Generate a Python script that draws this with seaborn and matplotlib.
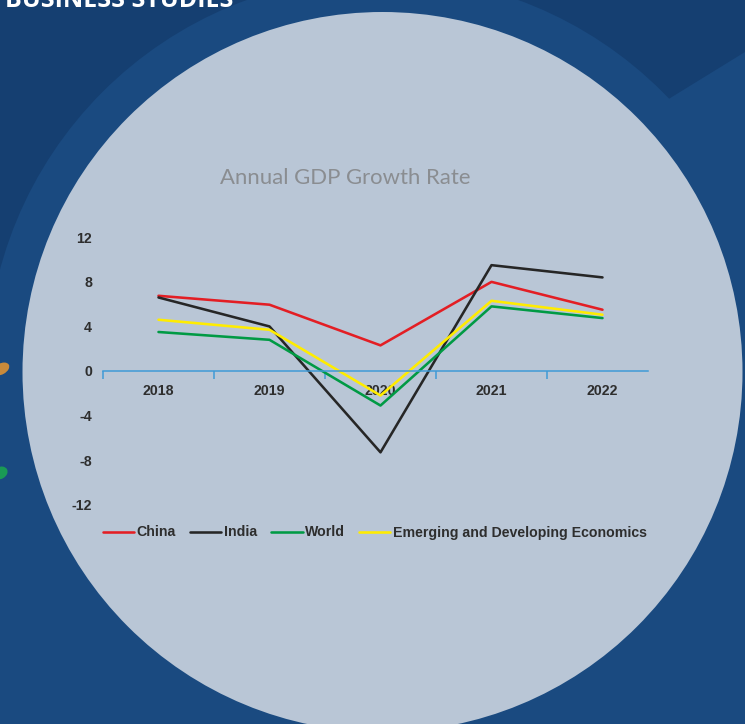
import matplotlib
matplotlib.use("Agg")
import matplotlib.pyplot as plt
from matplotlib.patches import Ellipse, Polygon
import seaborn as sns
import pandas as pd

# ---- data ----
years = [2018, 2019, 2020, 2021, 2022]
series_names = ["China", "India", "World", "Emerging and Developing Economics"]
china = [6.75, 5.95, 2.3, 8.0, 5.5]
india = [6.6, 4.0, -7.3, 9.5, 8.4]
world = [3.5, 2.8, -3.1, 5.8, 4.75]
emde = [4.6, 3.7, -2.2, 6.3, 5.05]
y_ticks = [-12, -8, -4, 0, 4, 8, 12]
title = "Annual GDP Growth Rate"
header = "BUSINESS STUDIES"

colors = {"China": "#e31e24", "India": "#262626",
          "World": "#009a44", "Emerging and Developing Economics": "#ffec00"}

rows = []
for name, vals in zip(series_names, [china, india, world, emde]):
    for yr, v in zip(years, vals):
        rows.append({"Year": yr, "Growth": v, "Series": name})
df = pd.DataFrame(rows)

sns.set_theme(style="white")
plt.rcParams["font.family"] = ["Liberation Sans", "DejaVu Sans"]

W, H = 745, 724
NAVY = "#1a4a80"
DARK = "#153f71"
LIGHT = "#b9c6d6"

fig = plt.figure(figsize=(W / 100, H / 100), dpi=100, facecolor=NAVY)

def fx(px):
    return px / W

def fy(py):
    return 1 - py / H

# background decoration
dark_poly = Polygon([(fx(0), fy(0)), (fx(745), fy(0)), (fx(745), fy(52)),
                     (fx(667), fy(100)), (fx(382), fy(372)), (fx(0), fy(300))],
                    closed=True, transform=fig.transFigure, facecolor=DARK,
                    edgecolor="none", zorder=-10)
fig.patches.append(dark_poly)
cx, cy = 382.5, 372
ring = Ellipse((fx(cx), fy(cy)), 2 * 396 / W, 2 * 396 / H, transform=fig.transFigure,
               facecolor=NAVY, edgecolor="none", zorder=-9)
fig.patches.append(ring)
disk = Ellipse((fx(cx), fy(cy)), 2 * 360 / W, 2 * 360 / H, transform=fig.transFigure,
               facecolor=LIGHT, edgecolor="none", zorder=-8)
fig.patches.append(disk)
blob1 = Ellipse((fx(1), fy(369)), 18 / W, 11 / H, angle=30, transform=fig.transFigure,
                facecolor="#c98a3a", edgecolor="none", zorder=-7)
blob2 = Ellipse((fx(0), fy(473)), 16 / W, 12 / H, angle=30, transform=fig.transFigure,
                facecolor="#1a9a55", edgecolor="none", zorder=-7)
fig.patches.extend([blob1, blob2])

fig.text(fx(5), fy(7), header, color="white", fontsize=18, fontweight="bold",
         family=["Open Sans", "DejaVu Sans"], ha="left", va="baseline")

fig.text(fx(345), fy(178.5), title, color="#8a8d91", fontsize=15.9,
         family=["Lato", "DejaVu Sans"], ha="center", va="center")

# axes
ax = fig.add_axes([fx(103), fy(504.7), fx(648 - 103), (504.7 - 237.3) / H])
ax.set_facecolor("none")
sns.lineplot(data=df, x="Year", y="Growth", hue="Series", hue_order=series_names,
             palette=colors, linewidth=1.85, ax=ax, legend=True, sort=False)

ax.set_xlim(years[0] - 0.5, years[-1] + 0.41)
ax.set_ylim(y_ticks[0], y_ticks[-1])
ax.set_xlabel("")
ax.set_ylabel("")
for s in ["left", "top", "right"]:
    ax.spines[s].set_visible(False)
ax.spines["bottom"].set_position(("data", 0))
ax.spines["bottom"].set_color("#3f9ad6")
ax.spines["bottom"].set_linewidth(1.1)

ax.set_xticks(years)
ax.set_xticklabels([str(y) for y in years])
ax.set_xticks([y - 0.5 for y in years], minor=True)
ax.tick_params(axis="x", which="major", length=0, pad=9.5)
ax.tick_params(axis="x", which="minor", length=5.5, width=1.1, color="#3f9ad6",
               direction="out", bottom=True)
ax.set_yticks(y_ticks)
ax.set_yticklabels([str(t) for t in y_ticks])
ax.tick_params(axis="y", length=0, pad=8)
for lbl in ax.get_xticklabels() + ax.get_yticklabels():
    lbl.set_fontweight("bold")
    lbl.set_fontsize(10.2)
    lbl.set_color("#2e2e2e")
ax.grid(False)

handles, labels = ax.get_legend_handles_labels()
ax.get_legend().remove()
leg = fig.legend(handles, labels, loc="center left", bbox_to_anchor=(fx(103), fy(532.5)),
                 ncol=4, frameon=False, handlelength=2.2, handletextpad=0.2,
                 columnspacing=1.0, borderpad=0, borderaxespad=0,
                 prop={"weight": "bold", "size": 10.15})
for t in leg.get_texts():
    t.set_color("#2e2e2e")
for l in leg.get_lines():
    l.set_linewidth(1.85)

fig.savefig("out.png", dpi=100, facecolor=NAVY)
